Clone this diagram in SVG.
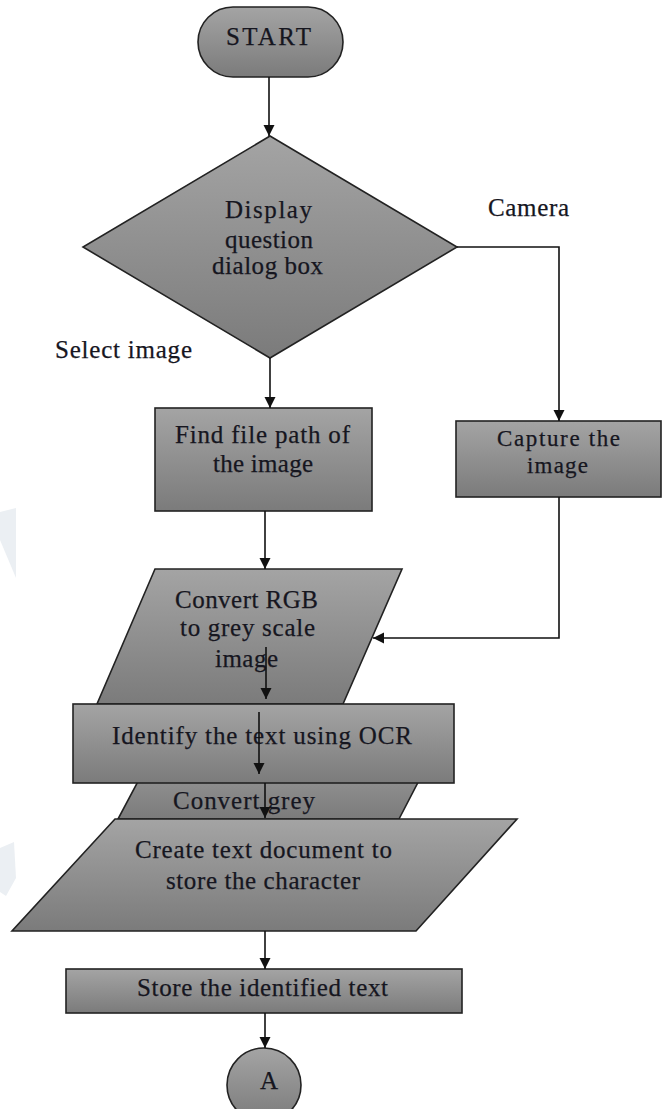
<svg xmlns="http://www.w3.org/2000/svg" width="662" height="1109" viewBox="0 0 662 1109">
  <defs>
    <linearGradient id="shade" x1="0" y1="0" x2="0" y2="1">
      <stop offset="0" stop-color="#a4a4a4"/>
      <stop offset="1" stop-color="#7b7b7b"/>
    </linearGradient>
    <marker id="arrow" markerUnits="userSpaceOnUse" markerWidth="12" markerHeight="12" refX="11" refY="6" orient="auto">
      <path d="M0,0.5 L11,6 L0,11.5 z" fill="#111"/>
    </marker>
    <style>
      .shape { fill: url(#shade); stroke: #222; stroke-width: 1.6; }
      .label { font-family: "Liberation Serif", "Times New Roman", serif; font-size: 25px; fill: #16161f; stroke: #16161f; stroke-width: 0.25; text-anchor: middle; }
      .tight { font-size: 23px; }
      .link { fill: none; stroke: #111; stroke-width: 1.6; marker-end: url(#arrow); }
      .mark { fill: #ebeff3; }
    </style>
  </defs>

  <rect width="662" height="1109" fill="#ffffff"/>

  <!-- faint background marks at the left margin -->
  <g id="margin-marks">
    <polygon class="mark" points="0,512 16,508 16,578 0,540"/>
    <polygon class="mark" points="0,848 14,842 16,878 6,896 0,892"/>
  </g>

  <g id="start">
    <rect class="shape" x="198" y="7" width="145" height="70" rx="35" ry="35"/>
    <text class="label" x="268.5" y="45" textLength="85" lengthAdjust="spacing">START</text>
  </g>

  <g id="decision">
    <polygon class="shape" points="270,136 457,247 270,358 83,247"/>
    <text class="label" x="268.5" y="218" textLength="87" lengthAdjust="spacing">Display</text>
    <text class="label" x="269" y="248" textLength="88" lengthAdjust="spacing">question</text>
    <text class="label" x="267.5" y="274" textLength="111" lengthAdjust="spacing">dialog box</text>
  </g>

  <g id="label-camera">
    <text class="label" x="528.5" y="216" textLength="81" lengthAdjust="spacing">Camera</text>
  </g>
  <g id="label-select">
    <text class="label" x="123.5" y="358" textLength="137" lengthAdjust="spacing">Select image</text>
  </g>

  <g id="find-path">
    <rect class="shape" x="155" y="408" width="217" height="103"/>
    <text class="label" x="262.5" y="443" textLength="175" lengthAdjust="spacing">Find file path of</text>
    <text class="label" x="263" y="472" textLength="100" lengthAdjust="spacing">the image</text>
  </g>

  <g id="capture">
    <rect class="shape" x="456" y="421" width="205" height="76"/>
    <text class="label tight" x="558.5" y="446" textLength="123" lengthAdjust="spacing">Capture the</text>
    <text class="label tight" x="557.5" y="473" textLength="61" lengthAdjust="spacing">image</text>
  </g>

  <g id="convert-grey">
    <polygon class="shape" points="160,740 440,740 399,819 118,819"/>
    <text class="label" x="244" y="809" textLength="142" lengthAdjust="spacing">Convert grey</text>
  </g>

  <g id="convert-rgb">
    <polygon class="shape" points="155,569 402,569 343,704 97,704"/>
    <text class="label" x="246.5" y="608" textLength="143" lengthAdjust="spacing">Convert RGB</text>
    <text class="label" x="247.5" y="636" textLength="135" lengthAdjust="spacing">to grey scale</text>
    <text class="label" x="246.5" y="667" textLength="63" lengthAdjust="spacing">image</text>
  </g>

  <g id="identify">
    <rect class="shape" x="73" y="704" width="381" height="79"/>
    <text class="label" x="262" y="744" textLength="300" lengthAdjust="spacing">Identify the text using OCR</text>
  </g>

  <g id="create-doc">
    <polygon class="shape" points="115,819 517,819 416,931 12,931"/>
    <text class="label" x="263.5" y="858" textLength="257" lengthAdjust="spacing">Create text document to</text>
    <text class="label" x="263" y="889" textLength="194" lengthAdjust="spacing">store the character</text>
  </g>

  <g id="store">
    <rect class="shape" x="66" y="969" width="396" height="44"/>
    <text class="label" x="262.5" y="996" textLength="251" lengthAdjust="spacing">Store the identified text</text>
  </g>

  <g id="connector-a">
    <circle class="shape" cx="264" cy="1085" r="37"/>
    <text class="label" x="269" y="1089">A</text>
  </g>

  <g id="connectors">
    <path class="link" d="M269,77 L269,136"/>
    <path class="link" d="M270,358 L270,408"/>
    <path class="link" d="M457,247 L559,247 L559,421"/>
    <path class="link" d="M265,511 L265,569"/>
    <path class="link" d="M559,497 L559,638 L373,638"/>
    <path class="link" d="M266,647 L266,699"/>
    <path class="link" d="M259,712 L259,774"/>
    <path class="link" d="M265,783 L265,818"/>
    <path class="link" d="M265,931 L265,969"/>
    <path class="link" d="M265,1013 L265,1048"/>
  </g>
</svg>
